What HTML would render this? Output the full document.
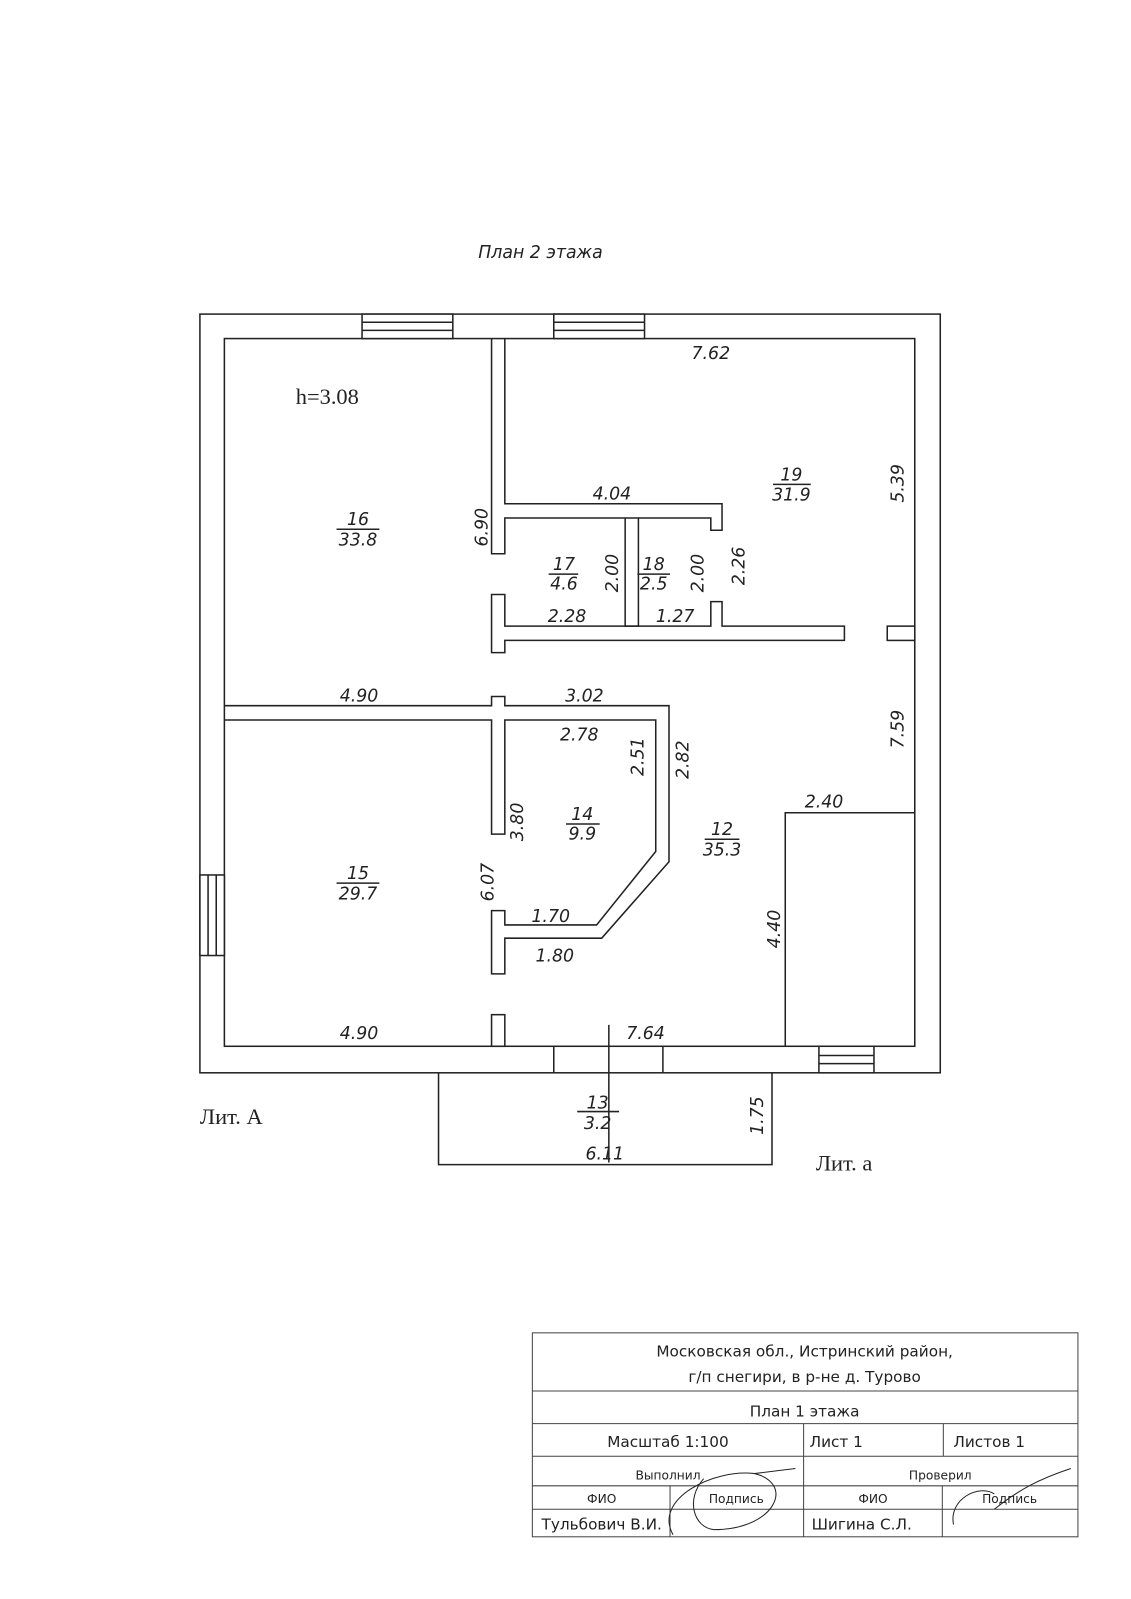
<!DOCTYPE html>
<html><head><meta charset="utf-8"><style>
html,body{margin:0;padding:0;background:#fff}
svg{display:block}
text{font-family:"DejaVu Sans","Liberation Sans",sans-serif;fill:#222}
.i{font-style:italic;font-size:17px}
.s{font-family:"Liberation Serif",serif;font-size:22px}
</style></head><body>
<svg width="1131" height="1599" viewBox="0 0 1109 1568" xmlns="http://www.w3.org/2000/svg">
<g fill="none" stroke="#222" stroke-width="1.5">
<rect x="196" y="308" width="726" height="744" fill="#fff"/>
<rect x="220" y="332" width="677" height="694"/>
<!-- top windows -->
<rect x="355" y="308" width="89" height="24" fill="#fff"/><line x1="355" y1="316" x2="444" y2="316"/><line x1="355" y1="324" x2="444" y2="324"/>
<rect x="543" y="308" width="89" height="24" fill="#fff"/><line x1="543" y1="316" x2="632" y2="316"/><line x1="543" y1="324" x2="632" y2="324"/>
<!-- left window -->
<rect x="196" y="858" width="24" height="79" fill="#fff"/><line x1="204" y1="858" x2="204" y2="937"/><line x1="212" y1="858" x2="212" y2="937"/>
<!-- bottom window -->
<rect x="803" y="1026" width="54" height="26" fill="#fff"/><line x1="803" y1="1035" x2="857" y2="1035"/><line x1="803" y1="1043" x2="857" y2="1043"/>
<line x1="543" y1="1026" x2="543" y2="1052"/><line x1="650" y1="1026" x2="650" y2="1052"/>
<!-- partition 6.90 + 4.04 -->
<path d="M482 332 V543 H495 V508 H697 V520 H708 V494 H495 V332"/>
<!-- rooms 17/18 divider -->
<path d="M613 508 V614 H626 V508"/>
<!-- bottom wall of 17/18 -->
<path d="M482 583 V640 H495 V628 H828 V614 H708 V590 H697 V614 H495 V583 Z"/>
<rect x="870" y="614" width="27" height="14"/>
<!-- horizontal wall 4.90/3.02 and room 14 -->
<path d="M220 692 H482 V683 H495 V692 H656 V845 L590 920 H495 V955 H482 V893 H495 V907 H585 L643 835 V706 H495 V818 H482 V706 H220"/>
<rect x="482" y="995" width="13" height="31"/>
<!-- right box -->
<path d="M897 797 H770 V1026"/>
<line x1="597" y1="1005" x2="597" y2="1140"/>
<!-- porch -->
<path d="M430 1052 V1142 H757 V1052"/>
<!-- fraction lines -->
<line x1="330" y1="519" x2="372" y2="519"/>
<line x1="758" y1="475" x2="795" y2="475"/>
<line x1="538" y1="563" x2="567" y2="563"/>
<line x1="625" y1="563" x2="657" y2="563"/>
<line x1="555" y1="808" x2="588" y2="808"/>
<line x1="330" y1="866" x2="372" y2="866"/>
<line x1="691" y1="823" x2="725" y2="823"/>
<line x1="566" y1="1090" x2="607" y2="1090"/>
</g>
<text x="530" y="253" class="i" text-anchor="middle">План 2 этажа</text>
<text x="290" y="396" class="s" font-size="19">h=3.08</text>
<g class="i" text-anchor="middle">
<text x="697" y="352">7.62</text>
<text x="600" y="490">4.04</text>
<text x="351" y="515">16</text><text x="351" y="535">33.8</text>
<text x="776" y="471">19</text><text x="776" y="491">31.9</text>
<text x="553" y="559">17</text><text x="553" y="578">4.6</text>
<text x="641" y="559">18</text><text x="641" y="578">2.5</text>
<text x="556" y="610">2.28</text>
<text x="662" y="610">1.27</text>
<text x="352" y="688">4.90</text>
<text x="573" y="688">3.02</text>
<text x="568" y="726">2.78</text>
<text x="571" y="804">14</text><text x="571" y="823">9.9</text>
<text x="351" y="862">15</text><text x="351" y="882">29.7</text>
<text x="708" y="819">12</text><text x="708" y="839">35.3</text>
<text x="540" y="904">1.70</text>
<text x="544" y="943">1.80</text>
<text x="808" y="792">2.40</text>
<text x="352" y="1019">4.90</text>
<text x="633" y="1019">7.64</text>
<text x="586" y="1087">13</text><text x="586" y="1107">3.2</text>
<text x="593" y="1137">6.11</text>
</g>
<g class="i" text-anchor="middle">
<text transform="translate(478,517) rotate(-90)">6.90</text>
<text transform="translate(606,562) rotate(-90)">2.00</text>
<text transform="translate(690,562) rotate(-90)">2.00</text>
<text transform="translate(730,555) rotate(-90)">2.26</text>
<text transform="translate(886,474) rotate(-90)">5.39</text>
<text transform="translate(886,715) rotate(-90)">7.59</text>
<text transform="translate(513,806) rotate(-90)">3.80</text>
<text transform="translate(631,742) rotate(-90)">2.51</text>
<text transform="translate(675,745) rotate(-90)">2.82</text>
<text transform="translate(484,865) rotate(-90)">6.07</text>
<text transform="translate(765,911) rotate(-90)">4.40</text>
<text transform="translate(748,1094) rotate(-90)">1.75</text>
</g>
<text x="196" y="1102" class="s">Лит. А</text>
<text x="800" y="1148" class="s">Лит. а</text>
<!-- title block -->
<g fill="none" stroke="#444" stroke-width="1">
<rect x="522" y="1307" width="535" height="200"/>
<line x1="522" y1="1364" x2="1057" y2="1364"/>
<line x1="522" y1="1396" x2="1057" y2="1396"/>
<line x1="522" y1="1428" x2="1057" y2="1428"/>
<line x1="522" y1="1457" x2="1057" y2="1457"/>
<line x1="522" y1="1480" x2="1057" y2="1480"/>
<line x1="788" y1="1396" x2="788" y2="1507"/>
<line x1="925" y1="1396" x2="925" y2="1428"/>
<line x1="657" y1="1457" x2="657" y2="1507"/>
<line x1="924" y1="1457" x2="924" y2="1507"/>
<path d="M660 1505 C640 1470 700 1440 740 1445 C780 1455 760 1500 700 1500 C680 1498 672 1470 690 1450 M740 1445 L780 1440" stroke="#222"/>
<path d="M935 1495 C930 1470 960 1455 975 1465 M975 1480 C1000 1460 1020 1450 1050 1440" stroke="#222"/>
</g>
<g text-anchor="middle" font-size="15">
<text x="789" y="1330">Московская обл., Истринский район,</text>
<text x="789" y="1355">г/п снегири, в р-не д. Турово</text>
<text x="789" y="1389">План 1 этажа</text>
<text x="655" y="1419">Масштаб 1:100</text>
<text x="820" y="1419">Лист 1</text>
<text x="970" y="1419">Листов 1</text>
<text x="655" y="1451" font-size="12" fill="#777">Выполнил</text>
<text x="922" y="1451" font-size="12" fill="#777">Проверил</text>
<text x="590" y="1474" font-size="12" fill="#777">ФИО</text>
<text x="722" y="1474" font-size="12" fill="#777">Подпись</text>
<text x="856" y="1474" font-size="12" fill="#777">ФИО</text>
<text x="990" y="1474" font-size="12" fill="#777">Подпись</text>
<text x="590" y="1500">Тульбович В.И.</text>
<text x="845" y="1500">Шигина С.Л.</text>
</g>
</svg>
</body></html>
